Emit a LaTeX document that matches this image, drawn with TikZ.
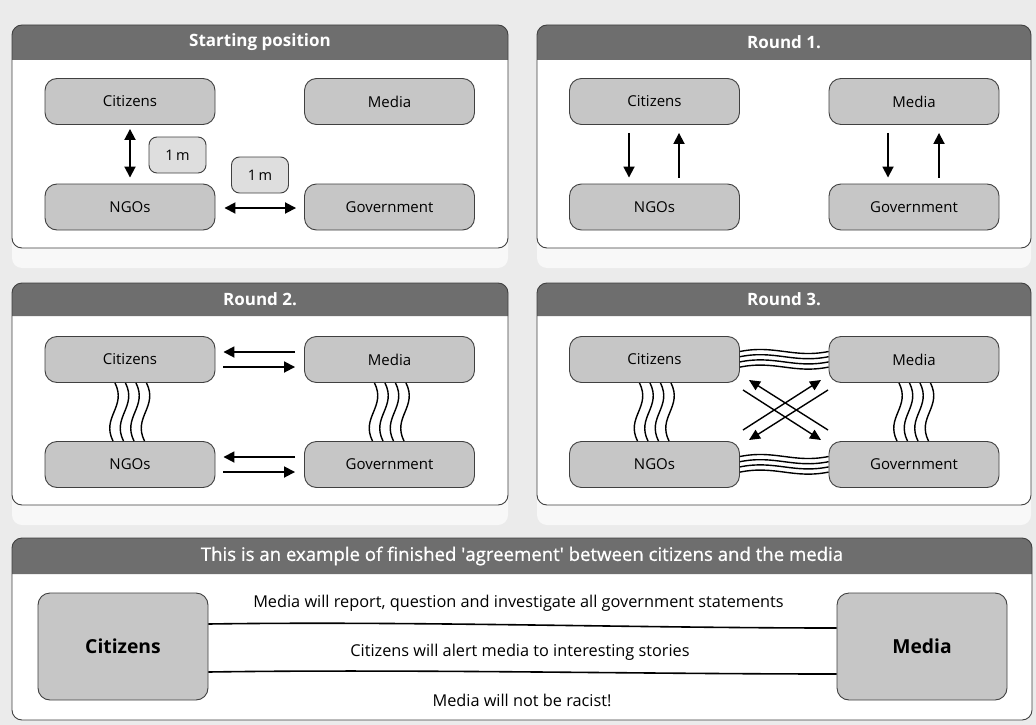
\documentclass[tikz,border=0pt]{standalone}
\usepackage{fontspec}
\setmainfont{Open Sans}
\usetikzlibrary{arrows.meta,calc}
\definecolor{bgc}{HTML}{EBEBEB}
\definecolor{hdrc}{HTML}{6E6E6E}
\definecolor{nodec}{HTML}{C6C6C6}
\definecolor{edgec}{HTML}{404040}
\definecolor{stripc}{HTML}{F8F8F8}
\definecolor{mfillc}{HTML}{DEDEDE}
\newcommand\mypanel[6]{%
  \fill[stripc, rounded corners=10pt] (#1,#2) rectangle (#3,{#4+20});
  \fill[white, rounded corners=10pt] (#1,#2) rectangle (#3,#4);
  \fill[hdrc] (#1,#5) [rounded corners=10pt]-- (#1,#2) -- (#3,#2) [sharp corners]-- (#3,#5) -- cycle;
  \draw[edgec, line width=0.9pt, rounded corners=10pt] (#1,#2) rectangle (#3,#4);
  \node[titletext] at ({(#1+#3)/2},{(#2+#5)/2}) {#6};
}
\newcommand\vwaves[2]{%
  \foreach \dx in {-15,-4.5,6,16.5}
    \draw[wave] ($(#1.south)+(\dx,0)$) .. controls +(12,24) and +(-12,-24) .. ($(#2.north)+(\dx-2,0)$);
}
\newcommand\hwaves[2]{%
  \foreach \dy in {-8,-2.8,2.4,7.6}
    \draw[wave] ($(#1.east)+(0,\dy)$) .. controls +(35,-7) and +(-35,7) .. ($(#2.west)+(0,\dy)$);
}
\begin{document}
\begin{tikzpicture}[x=1pt,y=-1pt,
  actor/.style={draw=edgec, fill=nodec, rounded corners=12pt, minimum width=170pt,
    minimum height=46pt, line width=0.9pt, inner sep=0pt,
    font=\fontsize{15}{17}\selectfont},
  bigactor/.style={actor, minimum height=107pt, font=\fontsize{19.3}{21}\selectfont\bfseries},
  mbox/.style={draw=edgec, fill=mfillc, rounded corners=8pt, minimum width=57pt,
    minimum height=36pt, line width=0.9pt, inner sep=0pt, font=\fontsize{14.5}{16}\selectfont},
  titletext/.style={text=white, font=\fontsize{17}{19}\selectfont\bfseries},
  arr/.style={line width=1.8pt, -{Triangle[length=11pt,width=11pt]}},
  dbl/.style={line width=1.8pt, {Triangle[length=11pt,width=11pt]}-{Triangle[length=11pt,width=11pt]}},
  xarr/.style={line width=1.4pt, -{Triangle[length=11pt,width=10pt]}},
  wave/.style={line width=1.4pt, black},
  link/.style={line width=1.6pt, black},
  plain/.style={font=\fontsize{16.3}{18}\selectfont, inner sep=0pt}
]
\useasboundingbox (0,0) rectangle (1036,725);
\fill[bgc] (0,0) rectangle (1036,725);

% ---------- Starting position
\mypanel{12}{25}{508}{248}{60}{Starting position}
\node[actor] (p1cit) at (130,101.5) {Citizens};
\node[actor] (p1med) at (389.5,101.5) {Media};
\node[actor] (p1ngo) at (130,207) {NGOs};
\node[actor] (p1gov) at (389.5,207) {Government};
\node[mbox] (p1m1) at (177.5,155) {1\,m};
\node[mbox] (p1m2) at (260,175) {1\,m};
\draw[dbl] ($(p1cit.south)+(0,4)$) -- ($(p1ngo.north)+(0,-6)$);
\draw[dbl] ($(p1ngo.east)+(9,1)$) -- ($(p1gov.west)+(-8,1)$);

% ---------- Round 1
\mypanel{537}{25}{1031}{248}{60}{Round 1.}
\node[actor] (p2cit) at (654.5,101.5) {Citizens};
\node[actor] (p2med) at (914,101.5) {Media};
\node[actor] (p2ngo) at (654.5,207) {NGOs};
\node[actor] (p2gov) at (914,207) {Government};
\draw[arr] ($(p2cit.south)+(-25.5,8)$) -- ($(p2ngo.north)+(-25.5,-6)$);
\draw[arr] ($(p2ngo.north)+(24.5,-6)$) -- ($(p2cit.south)+(24.5,8)$);
\draw[arr] ($(p2med.south)+(-26,8)$) -- ($(p2gov.north)+(-26,-6)$);
\draw[arr] ($(p2gov.north)+(25,-6)$) -- ($(p2med.south)+(25,8)$);

% ---------- Round 2
\mypanel{12}{283}{508}{505}{316}{Round 2.}
\node[actor] (p3cit) at (130,359.5) {Citizens};
\node[actor] (p3med) at (389.5,359.5) {Media};
\node[actor] (p3ngo) at (130,464.5) {NGOs};
\node[actor] (p3gov) at (389.5,464.5) {Government};
\draw[arr] ($(p3med.west)+(-9,-7.5)$) -- ($(p3cit.east)+(8,-7.5)$);
\draw[arr] ($(p3cit.east)+(8,7.5)$) -- ($(p3med.west)+(-9,7.5)$);
\draw[arr] ($(p3gov.west)+(-9,-7.5)$) -- ($(p3ngo.east)+(8,-7.5)$);
\draw[arr] ($(p3ngo.east)+(8,7.5)$) -- ($(p3gov.west)+(-9,7.5)$);
\vwaves{p3cit}{p3ngo}
\vwaves{p3med}{p3gov}

% ---------- Round 3
\mypanel{537}{283}{1031}{505}{316}{Round 3.}
\node[actor] (p4cit) at (654.5,359.5) {Citizens};
\node[actor] (p4med) at (914,359.5) {Media};
\node[actor] (p4ngo) at (654.5,464.5) {NGOs};
\node[actor] (p4gov) at (914,464.5) {Government};
\vwaves{p4cit}{p4ngo}
\vwaves{p4med}{p4gov}
\hwaves{p4cit}{p4med}
\hwaves{p4ngo}{p4gov}
\coordinate (xa1) at (743,430); \coordinate (xb1) at (821,380);
\coordinate (xa2) at (828,430); \coordinate (xb2) at (749,380);
\coordinate (xa3) at (743,390); \coordinate (xb3) at (821,440);
\coordinate (xa4) at (828,390); \coordinate (xb4) at (749,440);
\draw[xarr] (xa1) -- (xb1);
\draw[xarr] (xa2) -- (xb2);
\draw[xarr] (xa3) -- (xb3);
\draw[xarr] (xa4) -- (xb4);

% ---------- Agreement
\fill[white, rounded corners=10pt] (12,538) rectangle (1032,720);
\fill[hdrc] (12,574) [rounded corners=10pt]-- (12,538) -- (1032,538) [sharp corners]-- (1032,574) -- cycle;
\draw[edgec, line width=0.9pt, rounded corners=10pt] (12,538) rectangle (1032,720);
\node[text=white, font=\fontsize{18.6}{21}\selectfont\addfontfeature{FakeBold=0.8}] (bhead) at (522,556)
  {This is an example of finished \textquotesingle agreement\textquotesingle{} between citizens and the media};
\node[bigactor] (bcit) at (123,646.5) {Citizens};
\node[bigactor] (bmed) at (922,646.5) {Media};
\draw[link] ($(bcit.east)+(0,-22.5)$) .. controls +(200,-3) and +(-200,0) .. ($(bmed.west)+(0,-18.5)$);
\draw[link] ($(bcit.east)+(0,25.5)$) .. controls +(200,-3) and +(-200,0) .. ($(bmed.west)+(0,27.5)$);
\node[plain] (bt1) at (518.5,603) {Media will report, question and investigate all government statements};
\node[plain] (bt2) at (520,652) {Citizens will alert media to interesting stories};
\node[plain] (bt3) at (522,700) {Media will not be racist!};
\end{tikzpicture}
\end{document}
